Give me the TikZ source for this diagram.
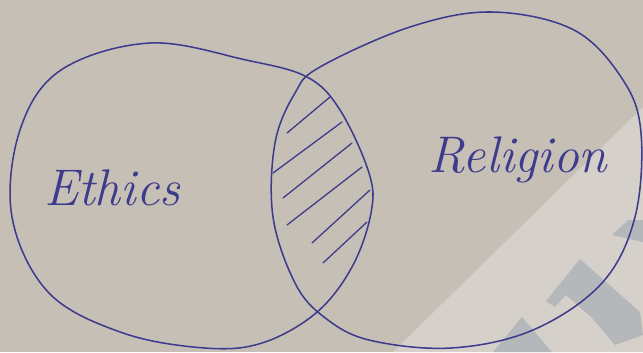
\documentclass[tikz,border=0pt]{standalone}
\usetikzlibrary{shapes.geometric}
\definecolor{paper}{HTML}{C6BFB6}
\definecolor{wmark}{HTML}{D5D0CA}
\definecolor{wlogo}{HTML}{9CA5AE}
\definecolor{ink}{HTML}{3C3B8C}
\tikzset{
  venn/.style={draw=ink, line width=1.3pt, line join=round},
  hatchline/.style={draw=ink, line width=1.1pt, line cap=round},
  label/.style={text=ink, font=\fontsize{44}{44}\selectfont\itshape, inner sep=0pt}
}
\begin{document}
\begin{tikzpicture}[x=0.03cm, y=-0.03cm]
\useasboundingbox (0,0) rectangle (643,352);
\fill[paper] (0,0) rectangle (643,352);
% watermark
\fill[wmark] (393,352) -- (643,107) -- (643,352) -- cycle;
\fill[wlogo, opacity=0.55] (546,301) -- (580,259) -- (640,312) -- (643,335) -- (615,345) -- (592,318) -- (566,295) -- (555,307) -- cycle;
\fill[wlogo, opacity=0.55] (493,352) -- (522,317) -- (552,352) -- cycle;
\fill[wlogo, opacity=0.55] (612,235) -- (628,220) -- (643,220) -- (643,242) -- (625,238) -- cycle;
% Ethics circle
\draw[venn] plot[smooth cycle, tension=0.6] coordinates {
 (61,70) (150,43) (246,60) (307,77) (340,110) (369,173) (371,213)
 (352,267) (316,313) (262,343) (205,348) (123,333) (49,293) (12,217) (20,130)};
% Religion circle
\draw[venn] plot[smooth cycle, tension=0.6] coordinates {
 (320,67) (410,27) (492,12) (574,30) (623,80) (641,133) (635,217)
 (602,283) (533,330) (451,348) (369,340) (324,317) (295,283) (273,217) (275,143) (295,93)};
% hatching
\draw[hatchline] (287,133) -- (330,97);
\draw[hatchline] (273,173) -- (342,122);
\draw[hatchline] (283,198) -- (352,143);
\draw[hatchline] (287,225) -- (362,167);
\draw[hatchline] (312,243) -- (370,190);
\draw[hatchline] (323,263) -- (367,222);
% labels
\node[label] (ethics) at (112,188) {Ethics};
\node[label] (religion) at (518,160) {Religion};
\end{tikzpicture}
\end{document}
